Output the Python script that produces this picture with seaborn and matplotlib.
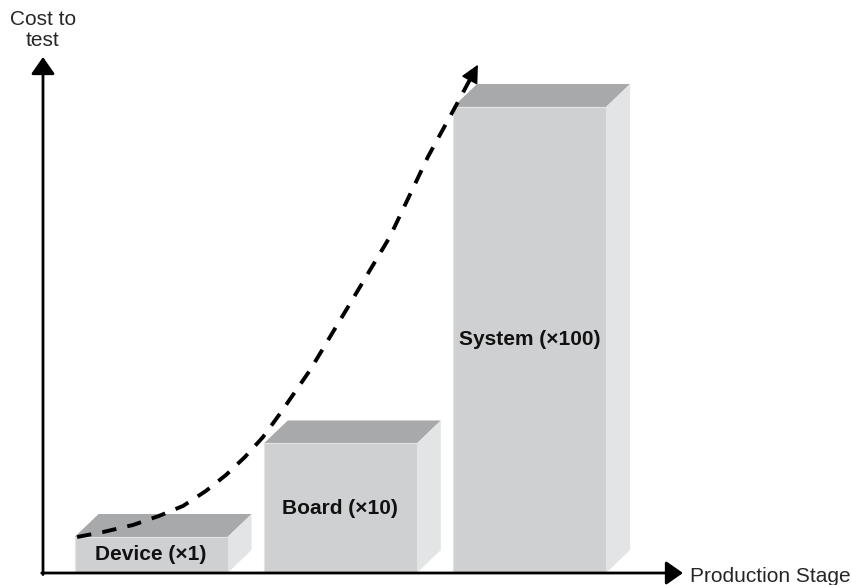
import numpy as np
import matplotlib
matplotlib.use("Agg")
import matplotlib.pyplot as plt
from matplotlib.patches import Polygon
from matplotlib.transforms import IdentityTransform
import seaborn as sns

# Production stages and the relative cost of testing at each one
stages = ["Device (×1)", "Board (×10)", "System (×100)"]
relative_cost = [1, 10, 100]

# Hand-drawn trend line rising through the stages (stage position, cost)
trend_x = [-0.391, -0.254, -0.095, 0.042, 0.169, 0.290, 0.396, 0.496,
           0.591, 0.681, 0.840, 1.051, 1.262, 1.463, 1.616, 1.727]
trend_y = [1.0, 1.26, 1.68, 2.29, 3.06, 4.40, 6.06, 8.20,
           10.9, 14.5, 22.4, 37.3, 55.6, 81.6, 101.2, 116.9]

x_label = "Production Stage"
y_label = "Cost to\ntest"

sns.set_theme(style="white")
plt.rcParams["font.family"] = ["Liberation Sans", "DejaVu Sans"]

W, H = 853, 585
fig = plt.figure(figsize=(W / 100, H / 100), dpi=100)
ax = fig.add_axes([43 / W, 12 / H, 640 / W, 516 / H])

FRONT = "#cfd0d2"
TOP = "#a8a9ab"
SIDE = "#e3e4e5"

sns.barplot(x=stages, y=relative_cost, color=FRONT, saturation=1, width=0.8085,
            edgecolor="#e4e4e4", linewidth=0.8, ax=ax, zorder=2)

# compressive power scale so the x100 box still fits beside the x1 box
power = 0.556
ax.set_yscale("function",
              functions=(lambda v: np.sign(v) * np.abs(v) ** power,
                         lambda s: np.sign(s) * np.abs(s) ** (1 / power)))
ax.set_xlim(-0.5711, 2.8107)
ax.set_ylim(0, 120.1)
ax.set_axis_off()

# extrude each bar into a box: top face and right side face (pixel depth)
DX, DY = 24, 23
for bar, label in zip(ax.patches, stages):
    x0 = bar.get_x()
    x1 = x0 + bar.get_width()
    h = bar.get_height()
    (l, b), (r, t) = ax.transData.transform([(x0, 0), (x1, h)])
    top = Polygon([(l, t), (r, t), (r + DX, t + DY), (l + DX, t + DY)],
                  closed=True, facecolor=TOP, edgecolor="none",
                  transform=IdentityTransform(), zorder=1.5, clip_on=False)
    side = Polygon([(r, b), (r, t), (r + DX, t + DY), (r + DX, b + DY)],
                   closed=True, facecolor=SIDE, edgecolor="none",
                   transform=IdentityTransform(), zorder=1.5, clip_on=False)
    ax.add_patch(top)
    ax.add_patch(side)
    y_mid = ax.transData.inverted().transform((l, (b + t) / 2))[1]
    ax.text(x0 + bar.get_width() / 2, y_mid, label, ha="center", va="center",
            fontsize=15, fontweight="bold", color="#111111", zorder=4)

# dashed trend curve; the last stretch is left to the arrow head
pts = ax.transData.transform(np.column_stack([trend_x, trend_y]))
tip = pts[-1]
direction = (pts[-1] - pts[-2]) / np.hypot(*(pts[-1] - pts[-2]))
HEAD = 14.0
base = tip - HEAD * direction
line_pts = ax.transData.inverted().transform(np.vstack([pts[:-1], base]))
ax.plot(line_pts[:, 0], line_pts[:, 1], color="black", lw=2.8,
        dashes=(3.7, 2.9), dash_capstyle="butt", zorder=5, clip_on=False)
ax.annotate("", xy=tip, xycoords=IdentityTransform(),
            xytext=base, textcoords=IdentityTransform(),
            arrowprops=dict(arrowstyle="-|>,head_length=1.0,head_width=0.5",
                            mutation_scale=11, color="black", lw=1.2,
                            shrinkA=0, shrinkB=0),
            annotation_clip=False, zorder=5)

# axes drawn as arrows
axis_kw = dict(arrowstyle="-|>,head_length=0.86,head_width=0.6", mutation_scale=12,
               color="black", lw=2, shrinkA=0, shrinkB=0)
ax.annotate("", xy=(0, 1), xycoords="axes fraction", xytext=(0, -0.003),
            textcoords="axes fraction", arrowprops=axis_kw, annotation_clip=False)
ax.annotate("", xy=(1, 0), xycoords="axes fraction", xytext=(-0.002, 0),
            textcoords="axes fraction", arrowprops=axis_kw, annotation_clip=False)

fig.text(43 / W, 1 - 30 / H, y_label, ha="center", va="center", fontsize=15,
         linespacing=1.1, multialignment="center")
fig.text(690 / W, 1 - 577 / H, x_label, ha="left", va="center", fontsize=15)

fig.savefig("out.png", dpi=100)
